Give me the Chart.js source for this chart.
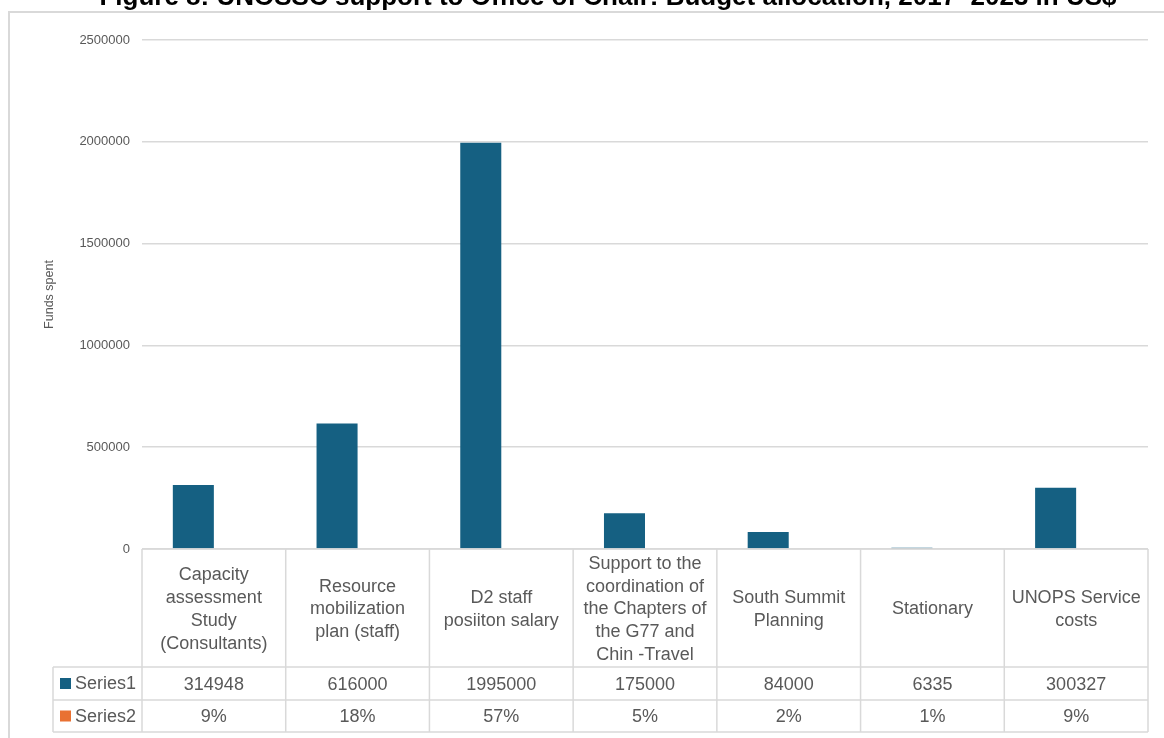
<!DOCTYPE html>
<html>
<head>
<meta charset="utf-8">
<script src="https://cdn.jsdelivr.net/npm/chart.js@4/dist/chart.umd.min.js"></script>
<style>
  html, body { margin: 0; padding: 0; background: #fff; }
  #wrap { position: relative; width: 1164px; height: 738px; overflow: hidden; }
  #frame { position: absolute; left: 8px; top: 11px; width: 1170px; height: 740px; border: 2px solid #d9d9d9; box-sizing: border-box; }
  #title { position: absolute; left: 0; width: 1216px; top: -17px; text-align: center; font: bold 26px "Liberation Sans", Arial, sans-serif; line-height: 26px; color: #000; white-space: nowrap; z-index: 2; }
  #chart { position: absolute; left: 0; top: 0; }
</style>
</head>
<body>
<div id="wrap">
  <div id="frame"></div>
  <div id="title">Figure 8: UNOSSC support to Office of Chair: Budget allocation, 2017–2023 in US$</div>
  <canvas id="chart" width="1164" height="738"></canvas>
</div>
<script>
// 범주(표 셀 안에서 줄바꿈된 그대로)
const categories = [
  ['Capacity', 'assessment', 'Study', '(Consultants)'],
  ['Resource', 'mobilization', 'plan (staff)'],
  ['D2 staff', 'posiiton salary'],
  ['Support to the', 'coordination of', 'the Chapters of', 'the G77 and', 'Chin -Travel'],
  ['South Summit', 'Planning'],
  ['Stationary'],
  ['UNOPS Service', 'costs'],
];
const series1 = [314948, 616000, 1995000, 175000, 84000, 6335, 300327];
const series2 = [0.09, 0.18, 0.57, 0.05, 0.02, 0.01, 0.09];
const series2Labels = ['9%', '18%', '57%', '5%', '2%', '1%', '9%'];
const yTicks = [0, 500000, 1000000, 1500000, 2000000, 2500000];

const BLUE = '#156082';
const ORANGE = '#E97132';
const GRID = '#d9d9d9';
const TEXT = '#595959';
const FAMILY = '"Liberation Sans", Arial, sans-serif';
const TABLE_FONT = '18px ' + FAMILY;

// 차트 아래 데이터 표(Excel data table 흉내)
const dataTable = {
  id: 'dataTable',
  afterDraw(chart) {
    const { ctx, chartArea: ca, scales: { x } } = chart;
    const n = categories.length;
    const half = (x.getPixelForValue(1) - x.getPixelForValue(0)) / 2;
    const top = ca.bottom, catBottom = top + 118, r1 = catBottom + 33, r2 = r1 + 32;
    const legLeft = 53;

    ctx.save();
    ctx.strokeStyle = GRID;
    ctx.lineWidth = 1.5;
    const line = (x1, y1, x2, y2) => { ctx.beginPath(); ctx.moveTo(x1, y1); ctx.lineTo(x2, y2); ctx.stroke(); };
    line(ca.left, top, ca.right, top);
    [catBottom, r1, r2].forEach(y => line(legLeft, y, ca.right, y));
    line(legLeft, catBottom, legLeft, r2);
    for (let i = 0; i <= n; i++) {
      const xx = i < n ? x.getPixelForValue(i) - half : x.getPixelForValue(n - 1) + half;
      line(xx, top, xx, r2);
    }

    ctx.fillStyle = TEXT;
    ctx.font = TABLE_FONT;
    ctx.textAlign = 'center';
    ctx.textBaseline = 'middle';
    const lh = 22.75, mid = (top + catBottom) / 2 + 1.5;
    categories.forEach((lines, i) => {
      const cx = x.getPixelForValue(i);
      lines.forEach((t, j) => ctx.fillText(t, cx, mid + (j - (lines.length - 1) / 2) * lh));
      ctx.fillText(String(series1[i]), cx, (catBottom + r1) / 2 + 1.5);
      ctx.fillText(series2Labels[i], cx, (r1 + r2) / 2 + 1);
    });

    // 범례 칸
    ctx.textAlign = 'left';
    [[BLUE, 'Series1', (catBottom + r1) / 2], [ORANGE, 'Series2', (r1 + r2) / 2]].forEach(([c, t, y]) => {
      ctx.fillStyle = c;
      ctx.fillRect(60, y - 5.5, 11, 11);
      ctx.fillStyle = TEXT;
      ctx.fillText(t, 75, y + 1);
    });
    ctx.restore();
  }
};

// 반 픽셀도 안 되는 막대는 엑셀처럼 안 그림(안티앨리어싱 잔선 방지)
const barFill = color => c => {
  const y = c.chart.scales.y;
  if (!c.parsed || !y) return color;
  return Math.abs(y.getPixelForValue(c.parsed.y) - y.getPixelForValue(0)) < 0.5 ? 'rgba(0,0,0,0)' : color;
};

new Chart(document.getElementById('chart'), {
  type: 'bar',
  data: {
    labels: categories.map(c => c.join(' ')),
    datasets: [
      { label: 'Series1', data: series1, backgroundColor: BLUE, borderWidth: 0 },
      { label: 'Series2', data: series2, backgroundColor: barFill(ORANGE), borderWidth: 0, inflateAmount: 0 },
    ],
  },
  options: {
    responsive: false,
    devicePixelRatio: 1,
    animation: false,
    layout: { padding: { left: 0, right: 16, top: 40, bottom: 189 } },
    plugins: { legend: { display: false }, tooltip: { enabled: false } },
    datasets: { bar: { categoryPercentage: 0.571, barPercentage: 1 } },
    scales: {
      x: { display: false, offset: true },
      y: {
        min: 0, max: 2500000,
        afterBuildTicks: s => { s.ticks = yTicks.map(v => ({ value: v })); },
        afterFit: s => { s.width = 142; },
        ticks: { color: TEXT, font: { family: FAMILY, size: 13 }, padding: 12, callback: v => String(v) },
        grid: { color: GRID, lineWidth: 1.5, drawTicks: false },
        border: { display: false },
        title: {
          display: true, text: 'Funds spent', color: TEXT,
          font: { family: FAMILY, size: 12.5 },
          padding: { top: 42.5, bottom: 0 },
        },
      },
    },
  },
  plugins: [dataTable],
});
</script>
</body>
</html>
